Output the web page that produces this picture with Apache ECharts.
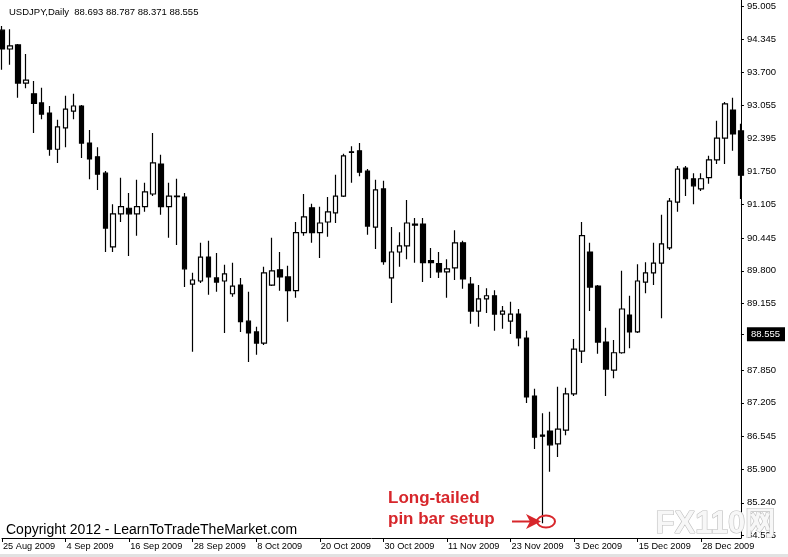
<!DOCTYPE html>
<html>
<head>
<meta charset="utf-8">
<script src="https://cdn.jsdelivr.net/npm/echarts@6/dist/echarts.min.js"></script>
<style>
html,body{margin:0;padding:0;background:#fff;}
#chart{width:788px;height:557px;}
</style>
</head>
<body>
<div id="chart"></div>
<script>
const titleText = 'USDJPY,Daily  88.693 88.787 88.371 88.555';

const dates = [
 '25 Aug 2009','26 Aug 2009','27 Aug 2009','28 Aug 2009','31 Aug 2009','1 Sep 2009','2 Sep 2009','3 Sep 2009',
 '4 Sep 2009','7 Sep 2009','8 Sep 2009','9 Sep 2009','10 Sep 2009','11 Sep 2009','14 Sep 2009','15 Sep 2009',
 '16 Sep 2009','17 Sep 2009','18 Sep 2009','21 Sep 2009','22 Sep 2009','23 Sep 2009','24 Sep 2009','25 Sep 2009',
 '28 Sep 2009','29 Sep 2009','30 Sep 2009','1 Oct 2009','2 Oct 2009','5 Oct 2009','6 Oct 2009','7 Oct 2009',
 '8 Oct 2009','9 Oct 2009','12 Oct 2009','13 Oct 2009','14 Oct 2009','15 Oct 2009','16 Oct 2009','19 Oct 2009',
 '20 Oct 2009','21 Oct 2009','22 Oct 2009','23 Oct 2009','26 Oct 2009','27 Oct 2009','28 Oct 2009','29 Oct 2009',
 '30 Oct 2009','2 Nov 2009','3 Nov 2009','4 Nov 2009','5 Nov 2009','6 Nov 2009','9 Nov 2009','10 Nov 2009',
 '11 Nov 2009','12 Nov 2009','13 Nov 2009','16 Nov 2009','17 Nov 2009','18 Nov 2009','19 Nov 2009','20 Nov 2009',
 '23 Nov 2009','24 Nov 2009','25 Nov 2009','26 Nov 2009','27 Nov 2009','30 Nov 2009','1 Dec 2009','2 Dec 2009',
 '3 Dec 2009','4 Dec 2009','7 Dec 2009','8 Dec 2009','9 Dec 2009','10 Dec 2009','11 Dec 2009','14 Dec 2009',
 '15 Dec 2009','16 Dec 2009','17 Dec 2009','18 Dec 2009','21 Dec 2009','22 Dec 2009','23 Dec 2009','24 Dec 2009',
 '28 Dec 2009','29 Dec 2009','30 Dec 2009','31 Dec 2009','4 Jan 2010','5 Jan 2010'
];

const opens = [
 94.53,94.16,94.24,93.49,93.28,93.10,92.90,92.19,92.61,92.94,
 93.04,92.31,92.04,91.72,90.27,90.92,91.03,90.92,91.06,91.31,
 91.90,91.06,91.27,91.25,89.54,89.60,90.07,89.66,89.60,89.35,
 89.52,88.81,88.60,88.38,89.52,89.82,89.68,89.41,90.55,91.04,
 90.55,90.76,90.94,91.27,92.14,92.16,91.76,90.66,91.41,89.66,
 90.17,90.29,90.72,90.72,90.00,89.94,89.78,89.86,90.35,89.54,
 89.01,89.25,89.31,88.95,88.81,88.95,88.48,87.34,86.57,86.65,
 86.40,86.67,87.38,88.22,90.17,89.50,88.40,87.85,88.19,88.93,
 88.60,89.58,89.76,89.95,90.25,91.15,91.82,91.61,91.41,91.63,
 91.98,92.41,92.96,92.55
];
const highs = [
 94.61,94.55,94.26,94.06,93.53,93.40,93.04,92.77,93.24,93.28,
 93.06,92.57,92.23,91.76,91.11,91.63,91.33,91.59,91.53,92.51,
 92.08,91.53,91.61,91.33,89.76,90.35,90.39,90.15,89.92,89.96,
 89.66,89.39,88.70,89.88,90.45,90.17,89.90,90.76,91.31,91.12,
 91.06,91.25,91.69,92.10,92.25,92.31,91.80,91.59,91.57,90.66,
 90.56,91.19,90.84,90.84,90.25,90.17,90.03,90.60,90.39,89.68,
 89.52,89.46,89.42,89.11,89.19,89.05,88.62,87.48,87.00,87.03,
 87.52,87.50,88.46,90.76,90.35,89.52,88.68,88.44,89.80,89.31,
 89.93,89.97,90.35,90.90,91.23,91.86,91.86,91.72,91.72,92.06,
 92.75,93.12,93.20,92.69
];
const lows = [
 93.75,93.85,93.20,93.39,92.51,92.78,92.06,91.92,92.23,92.78,
 92.02,91.60,91.39,90.17,90.17,90.76,90.09,90.49,90.96,91.27,
 90.90,90.45,90.31,89.48,88.21,89.56,89.33,89.39,88.58,89.29,
 88.60,88.01,88.15,88.34,89.50,89.41,88.80,89.27,90.49,90.35,
 90.05,90.47,90.74,91.25,91.53,91.66,90.51,90.23,89.92,89.17,
 89.88,90.03,89.96,89.58,89.66,89.66,89.27,89.62,89.45,88.76,
 88.70,88.97,88.62,88.66,88.56,88.32,87.20,86.30,84.84,85.85,
 86.14,86.57,87.34,87.99,89.01,88.17,87.34,87.69,88.17,88.28,
 88.58,89.36,89.52,88.87,90.21,90.96,91.27,91.11,91.37,91.51,
 91.90,91.90,92.16,91.21
];
const closes = [
 94.16,94.22,93.49,93.55,93.09,92.88,92.19,92.63,92.98,93.04,
 92.31,92.00,91.70,90.64,90.92,91.06,90.92,91.06,91.35,91.92,
 91.06,91.27,91.26,89.84,89.62,90.07,89.68,89.58,89.74,89.50,
 88.80,88.58,88.38,89.76,89.80,89.68,89.41,90.55,90.86,90.55,
 90.74,90.96,91.27,92.06,92.13,91.74,90.68,91.39,89.98,90.17,
 90.29,90.74,90.70,89.96,89.96,89.78,89.84,90.35,89.64,89.01,
 89.25,89.31,88.95,89.01,88.95,88.48,87.32,86.53,86.55,86.38,
 86.69,87.38,88.26,90.49,89.48,88.40,87.87,88.19,89.05,88.60,
 89.60,89.76,89.95,90.33,91.17,91.80,91.61,91.47,91.61,91.98,
 92.41,93.08,92.49,91.68
];

const priceTicks = [95.005,94.345,93.700,93.055,92.395,91.750,91.105,90.445,89.800,89.155,88.555,87.850,87.205,86.545,85.900,85.240,84.595];
const currentPrice = 88.555;

const annotationLines = ['Long-tailed', 'pin bar setup'];
const copyrightText = 'Copyright 2012 - LearnToTradeTheMarket.com';
const watermarkText = 'FX110网';

const candleData = opens.map((o, i) => [o, closes[i], lows[i], highs[i]]);

const FONT = '"Liberation Sans", Arial, sans-serif';
const RED = '#d7262b';

const chart = echarts.init(document.getElementById('chart'), null, {renderer: 'canvas'});
chart.setOption({
  animation: false,
  backgroundColor: '#ffffff',
  title: {
    text: titleText, left: 4, top: 2,
    textStyle: {fontFamily: FONT, fontSize: 9.5, fontWeight: 'normal', color: '#000'}
  },
  grid: {left: 0, top: 0, right: 41, bottom: 19, containLabel: false},
  xAxis: {
    type: 'category',
    data: dates,
    boundaryGap: false,
    max: 93.375,
    axisLine: {show: true, lineStyle: {color: '#000', width: 1}},
    axisTick: {show: true, interval: 7, length: 4, lineStyle: {color: '#000'}},
    axisLabel: {interval: 7, align: 'left', margin: 4, fontFamily: FONT, fontSize: 9.2, color: '#000', padding: [0, 0, 0, 1]},
    splitLine: {show: false}
  },
  yAxis: {
    type: 'value',
    position: 'right',
    min: 84.549,
    max: 95.123,
    axisLine: {show: true, onZero: false, lineStyle: {color: '#000', width: 1}},
    axisTick: {show: true, length: 3, customValues: priceTicks, lineStyle: {color: '#000'}},
    axisLabel: {
      customValues: priceTicks,
      margin: 6,
      fontFamily: FONT, fontSize: 9.5, color: '#000',
      formatter: function (v) {
        const s = Number(v).toFixed(3);
        return Math.abs(v - currentPrice) < 1e-6 ? '{hl|' + s + '}' : s;
      },
      rich: {
        hl: {backgroundColor: '#000', color: '#fff', fontFamily: FONT, fontSize: 9.5, padding: [2, 5, 2, 4]}
      }
    },
    splitLine: {show: false}
  },
  series: [{
    type: 'candlestick',
    data: candleData,
    barWidth: 5,
    clip: true,
    itemStyle: {color: '#ffffff', color0: '#000000', borderColor: '#000000', borderColor0: '#000000', borderWidth: 1.2}
  }],
  graphic: [
    {type: 'text', left: 6, top: 523, z: 50,
     style: {text: copyrightText, font: '14px ' + FONT, fill: '#000'}},
    {type: 'text', left: 388, top: 490, z: 50,
     style: {text: annotationLines[0], font: 'bold 17px ' + FONT, fill: RED}},
    {type: 'text', left: 388, top: 511, z: 50,
     style: {text: annotationLines[1], font: 'bold 17px ' + FONT, fill: RED}},
    {type: 'line', z: 50, shape: {x1: 512, y1: 521.5, x2: 532, y2: 521.5}, style: {stroke: RED, lineWidth: 2}},
    {type: 'polygon', z: 50, shape: {points: [[526, 514], [541, 521.5], [526, 529], [530, 521.5]]}, style: {fill: RED}},
    {type: 'ellipse', z: 50, shape: {cx: 546, cy: 521.5, rx: 9, ry: 6}, style: {fill: 'none', stroke: RED, lineWidth: 2}},
    {type: 'text', left: 655, top: 508, z: 60,
     style: {text: watermarkText, font: 'bold 31px ' + FONT, fill: '#f7f7f7', stroke: '#bdbdbd', lineWidth: 1.2}},
    {type: 'rect', z: 40, shape: {x: 0, y: 554, width: 788, height: 3}, style: {fill: '#e2e2e2'}}
  ]
});
</script>
</body>
</html>
